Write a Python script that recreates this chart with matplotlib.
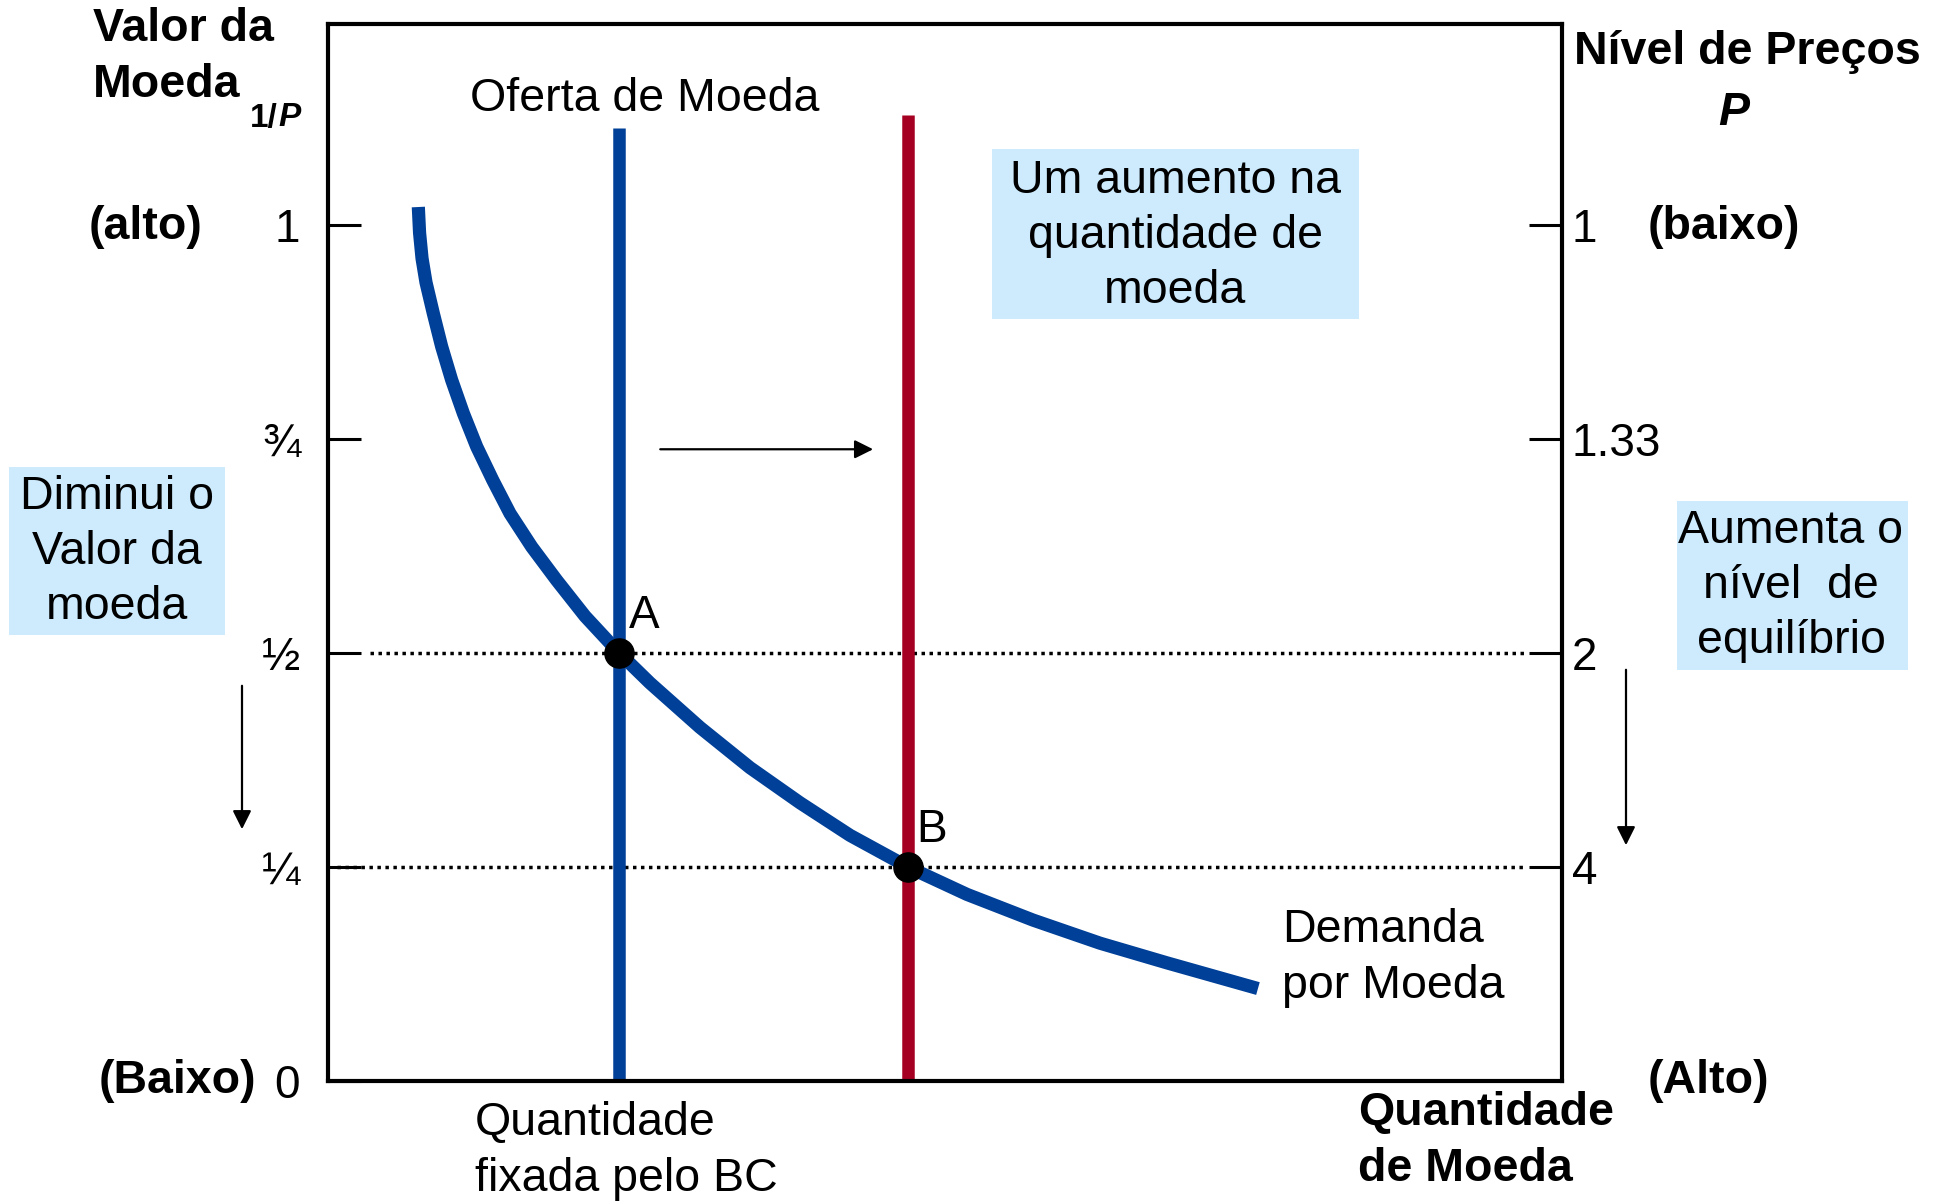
import matplotlib
matplotlib.use('Agg')
import matplotlib.pyplot as plt
import matplotlib.patches as patches

plt.rcParams['font.family'] = ['Liberation Sans', 'DejaVu Sans']

# demand for money (quantity, value of money 1/P)
demand_q = [7.32, 7.42, 7.62, 7.94, 8.53, 9.21, 10.02, 10.97, 12.05, 13.35, 14.75,
            16.51, 18.53, 20.83, 23.6, 26.09, 30.15, 34.20, 38.25, 42.30, 47.0,
            51.78, 57.13, 62.56, 67.99, 75.36]
demand_v = [1.021, 0.991, 0.961, 0.933, 0.897, 0.858, 0.819, 0.780, 0.741, 0.702, 0.663,
            0.624, 0.585, 0.543, 0.5, 0.465, 0.413, 0.366, 0.325, 0.287, 0.25,
            0.218, 0.188, 0.161, 0.138, 0.108]

supply_old_q = 23.6
supply_old_top = 1.113
supply_new_q = 47.0
supply_new_top = 1.128

eq_points = ['A', 'B']
eq_q = [23.6, 47.0]
eq_v = [0.5, 0.25]

left_ticks = [0, 0.25, 0.5, 0.75, 1]
left_labels = ['0', '¼', '½', '¾', '1']
right_ticks = [0.25, 0.5, 0.75, 1]
right_labels = ['4', '2', '1.33', '1']

BLUE = '#004098'
RED = '#a50021'
BOX = '#cdebfd'
W, H = 1946, 1204
LS = 1.33


def fx(x):
    return x / W


def fy(y):
    return 1 - y / H


fig = plt.figure(figsize=(W / 100, H / 100), dpi=100)
ax = fig.add_axes([fx(328), fy(1081), fx(1562) - fx(328), fy(24) - fy(1081)])
ax.set_xlim(0, 100)
ax.set_ylim(0, 1.2348)

for s in ax.spines.values():
    s.set_linewidth(3)
ax.set_xticks([])
ax.set_yticks(left_ticks)
ax.set_yticklabels(left_labels)
ax.tick_params(axis='y', direction='in', length=24, width=2.2, pad=20, labelsize=33)

ax2 = ax.twinx()
ax2.set_ylim(ax.get_ylim())
ax2.set_yticks(right_ticks)
ax2.set_yticklabels(right_labels)
ax2.tick_params(axis='y', direction='in', length=24, width=2.2, pad=7, labelsize=33)
for s in ax2.spines.values():
    s.set_visible(False)

# dotted guides at the two equilibria
ax.plot([3.4, 96.9], [eq_v[0], eq_v[0]], color='black', lw=2.5, dashes=(1, 1.3))
ax.plot([0.7, 96.9], [eq_v[1], eq_v[1]], color='black', lw=2.5, dashes=(1, 1.3))

# supply lines and demand curve
ax.plot([supply_old_q, supply_old_q], [0, supply_old_top], color=BLUE, lw=9, solid_capstyle='butt')
ax.plot([supply_new_q, supply_new_q], [0, supply_new_top], color=RED, lw=9, solid_capstyle='butt')
ax.plot(demand_q, demand_v, color=BLUE, lw=9.5, solid_capstyle='butt', solid_joinstyle='round')

ax.plot(eq_q, eq_v, 'o', color='black', markersize=21, zorder=5)

ax.annotate('', xy=(44.4, 0.738), xytext=(26.7, 0.738),
            arrowprops=dict(arrowstyle='-|>', lw=1.6, color='black', mutation_scale=28))

# labels for A and B
fig.text(fx(629), fy(616), eq_points[0], fontsize=33, ha='left', va='center')
fig.text(fx(916), fy(830), eq_points[1], fontsize=33, ha='left', va='center')

# text around the axes
fig.text(fx(93), fy(29), 'Valor da', fontsize=33.5, fontweight='bold', ha='left', va='center')
fig.text(fx(93), fy(85), 'Moeda', fontsize=33.5, fontweight='bold', ha='left', va='center')
fig.text(fx(250), fy(118), '1/', fontsize=24, fontweight='bold', ha='left', va='center')
fig.text(fx(278), fy(118), 'P', fontsize=24, fontweight='bold', fontstyle='italic', ha='left', va='center')
fig.text(fx(89), fy(227), '(alto)', fontsize=33.5, fontweight='bold', ha='left', va='center')
fig.text(fx(99), fy(1081), '(Baixo)', fontsize=33.5, fontweight='bold', ha='left', va='center')

fig.text(fx(1574), fy(52), 'Nível de Preços', fontsize=33.5, fontweight='bold', ha='left', va='center')
fig.text(fx(1734), fy(113), 'P', fontsize=33.5, fontweight='bold', fontstyle='italic', ha='center', va='center')
fig.text(fx(1648), fy(227), '(baixo)', fontsize=33.5, fontweight='bold', ha='left', va='center')
fig.text(fx(1648), fy(1081), '(Alto)', fontsize=33.5, fontweight='bold', ha='left', va='center')

fig.text(fx(1358), fy(1141), 'Quantidade\nde Moeda', fontsize=33.5, fontweight='bold', ha='left', va='center', linespacing=LS)
fig.text(fx(475), fy(1151), 'Quantidade\nfixada pelo BC', fontsize=33.5, ha='left', va='center', linespacing=LS)
fig.text(fx(470), fy(99), 'Oferta de Moeda', fontsize=33.5, ha='left', va='center')
fig.text(fx(1282), fy(958), 'Demanda\npor Moeda', fontsize=33.5, ha='left', va='center', linespacing=LS)

# light blue boxes
boxes = [
    ((992, 149, 1359, 319), (1175, 236), 'Um aumento na\nquantidade de\nmoeda'),
    ((9, 467, 225, 635), (117, 552), 'Diminui o\nValor da\nmoeda'),
    ((1677, 501, 1908, 670), (1791, 586), 'Aumenta o\nnível  de\nequilíbrio'),
]
for (x0, y0, x1, y1), (tx, ty), txt in boxes:
    fig.patches.append(patches.Rectangle((fx(x0), fy(y1)), fx(x1) - fx(x0), fy(y0) - fy(y1),
                                         transform=fig.transFigure, facecolor=BOX, edgecolor='none', zorder=0))
    fig.text(fx(tx), fy(ty), txt, fontsize=33.5, ha='center', va='center', linespacing=LS, multialignment='center')

# down arrows beside the axes
fig.add_artist(patches.FancyArrowPatch((fx(242), fy(683)), (fx(242), fy(832)), transform=fig.transFigure,
                                       arrowstyle='-|>', lw=1.6, color='black', mutation_scale=28))
fig.add_artist(patches.FancyArrowPatch((fx(1626), fy(667)), (fx(1626), fy(848)), transform=fig.transFigure,
                                       arrowstyle='-|>', lw=1.6, color='black', mutation_scale=28))

fig.savefig('out.png', dpi=100)
